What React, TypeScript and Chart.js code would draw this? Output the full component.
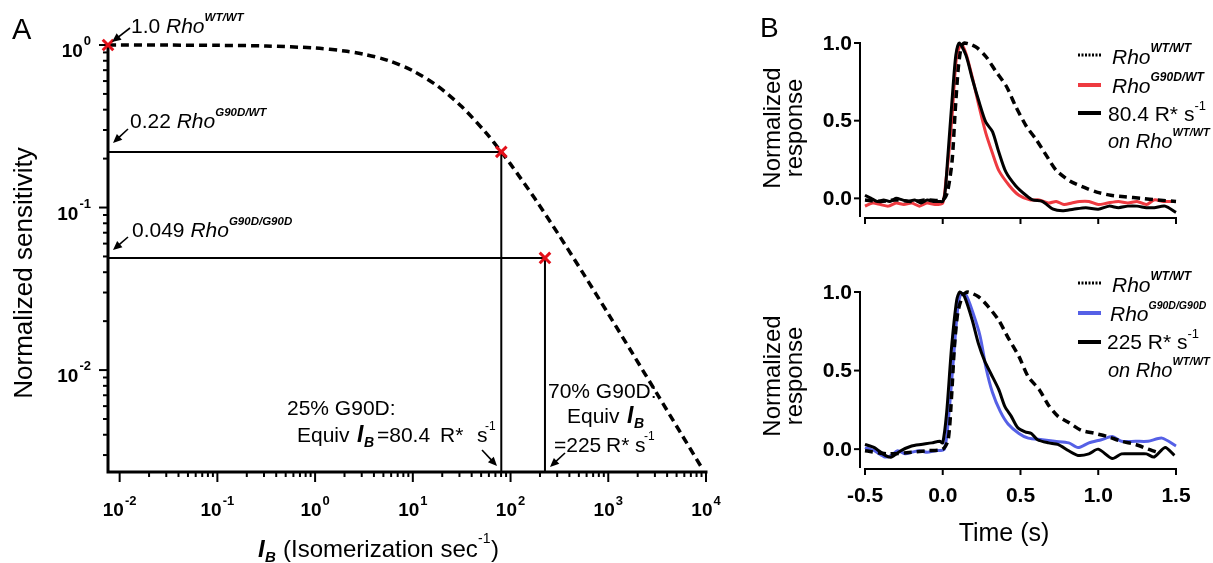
import { useEffect, useRef } from "react";
import { Chart, registerables } from "chart.js";

Chart.register(...registerables);

const W = 1213;
const H = 563;
const FAM = '"Liberation Sans", Arial, Helvetica, sans-serif';
const f = (size: number, weight = "normal", style = "normal") => `${style} ${weight} ${size}px ${FAM}`;
const RED_X = "#e3101a";
const RED = "#ee3a40";
const BLUE = "#5560e6";

// ---------------- Panel A data ----------------
const sensIntensity = [0.0076, 0.01, 0.0316, 0.1, 0.316, 1, 2, 3.16, 5.62, 10, 17.8, 31.6, 56.2, 80.4, 100, 178, 316, 562, 1000, 1778, 3162, 5623, 9000];
const sensValue = [1.0, 0.9996, 0.9986, 0.9956, 0.9863, 0.9578, 0.919, 0.878, 0.802, 0.694, 0.5605, 0.418, 0.2877, 0.22, 0.185, 0.1131, 0.067, 0.0388, 0.0222, 0.01261, 0.00713, 0.00402, 0.00252];
const markIntensity = [0.0076, 80.4, 225];
const markValue = [1.0, 0.22, 0.049];
const guideIntensity = [80.4, 225];
const guideValue = [0.22, 0.049];
const aXMin = 0.0076;
const aXMax = 10000;
const aYMin = 0.00236;
const aYMax = 1;
const aXMajorTicks = [0.01, 0.1, 1, 10, 100, 1000, 10000];
const aXTickExp = ["-2", "-1", "0", "1", "2", "3", "4"];
const aYMajorTicks = [1, 0.1, 0.01];
const aYTickExp = ["0", "-1", "-2"];
const minorMult = [2, 3, 4, 5, 6, 7, 8, 9];
const aXMinorDecades = [0.01, 0.1, 1, 10, 100, 1000];
const aYMinorDecades = [0.1, 0.01, 0.001];

// ---------------- Panel B data ----------------
const bXMin = -0.532;
const bXMax = 1.5;
const bYMin = -0.12;
const bYMax = 1.0;
const bXTicks = [-0.5, 0.0, 0.5, 1.0, 1.5];
const bXTickLabels = ["-0.5", "0.0", "0.5", "1.0", "1.5"];
const bYTicks = [0.0, 0.5, 1.0];
const bYTickLabels = ["0.0", "0.5", "1.0"];

// top: WT/WT (dashed)
const topWtT = [-0.5, -0.4, -0.3, -0.2, -0.1, 0.0, 0.03, 0.06, 0.08, 0.1, 0.12, 0.14, 0.18, 0.22, 0.28, 0.34, 0.41, 0.47, 0.54, 0.6, 0.67, 0.73, 0.82, 0.91, 0.99, 1.08, 1.17, 1.28, 1.38, 1.5];
const topWtR = [-0.01, -0.02, -0.01, -0.02, -0.01, -0.01, 0.04, 0.24, 0.56, 0.84, 0.98, 1.0, 0.99, 0.97, 0.91, 0.82, 0.72, 0.59, 0.46, 0.38, 0.27, 0.18, 0.11, 0.07, 0.04, 0.02, 0.01, 0.0, -0.01, -0.02];
// top: G90D/WT (red)
const topMutT = [-0.5, -0.45, -0.4, -0.35, -0.3, -0.25, -0.2, -0.15, -0.1, -0.05, 0.0, 0.02, 0.04, 0.06, 0.09, 0.12, 0.15, 0.19, 0.234, 0.277, 0.32, 0.36, 0.43, 0.49, 0.56, 0.62, 0.68, 0.73, 0.78, 0.83, 0.88, 0.94, 1.0, 1.06, 1.13, 1.19, 1.25, 1.31, 1.36, 1.42, 1.5];
const topMutR = [-0.05, -0.03, -0.04, -0.05, -0.03, -0.04, -0.03, -0.05, -0.03, -0.04, -0.03, 0.11, 0.3, 0.53, 0.92, 0.99, 0.93, 0.78, 0.59, 0.42, 0.29, 0.18, 0.08, 0.02, -0.01, -0.01, -0.03, -0.02, -0.04, -0.03, -0.02, -0.02, -0.04, -0.03, -0.02, -0.03, -0.02, -0.04, -0.01, -0.02, -0.02];
// top: 80.4 R*/s on WT/WT (black)
const topBgT = [-0.5, -0.46, -0.42, -0.38, -0.34, -0.3, -0.26, -0.22, -0.18, -0.14, -0.1, -0.06, -0.02, 0.0, 0.015, 0.03, 0.062, 0.084, 0.106, 0.15, 0.19, 0.234, 0.277, 0.32, 0.36, 0.406, 0.47, 0.535, 0.578, 0.64, 0.71, 0.77, 0.84, 0.92, 1.0, 1.07, 1.13, 1.19, 1.25, 1.31, 1.36, 1.43, 1.5];
const topBgR = [0.02, 0.0, -0.02, -0.01, -0.02, 0.0, -0.01, -0.02, -0.01, -0.03, -0.01, -0.02, -0.02, -0.02, 0.04, 0.23, 0.66, 0.92, 1.0, 0.92, 0.77, 0.62, 0.49, 0.43, 0.3, 0.17, 0.08, 0.02, -0.01, -0.02, -0.07, -0.08, -0.07, -0.06, -0.07, -0.05, -0.06, -0.05, -0.05, -0.06, -0.06, -0.05, -0.09];

// bottom: WT/WT (dashed)
const botWtT = [-0.5, -0.35, -0.2, -0.1, 0.0, 0.035, 0.057, 0.075, 0.097, 0.13, 0.16, 0.23, 0.29, 0.36, 0.42, 0.49, 0.55, 0.62, 0.68, 0.74, 0.81, 0.89, 0.98, 1.06, 1.15, 1.24, 1.32, 1.38];
const botWtR = [-0.01, -0.03, -0.02, -0.01, 0.0, 0.06, 0.34, 0.65, 0.87, 0.98, 1.0, 0.97, 0.91, 0.82, 0.71, 0.59, 0.46, 0.38, 0.28, 0.21, 0.17, 0.12, 0.1, 0.08, 0.05, 0.03, 0.0, -0.02];
// bottom: G90D/G90D (blue)
const botMutT = [-0.5, -0.44, -0.37, -0.33, -0.29, -0.24, -0.2, -0.15, -0.1, -0.05, 0.01, 0.04, 0.075, 0.097, 0.118, 0.15, 0.19, 0.24, 0.28, 0.32, 0.37, 0.42, 0.49, 0.55, 0.64, 0.72, 0.81, 0.87, 0.94, 1.02, 1.09, 1.15, 1.24, 1.32, 1.41, 1.5];
const botMutR = [0.01, -0.01, -0.05, -0.04, -0.01, -0.03, -0.02, -0.01, -0.02, -0.01, 0.0, 0.23, 0.65, 0.9, 0.99, 0.98, 0.88, 0.72, 0.51, 0.36, 0.24, 0.16, 0.1, 0.07, 0.06, 0.05, 0.04, 0.01, 0.04, 0.06, 0.08, 0.05, 0.05, 0.05, 0.07, 0.02];
// bottom: 225 R*/s on WT/WT (black)
const botBgT = [-0.5, -0.44, -0.37, -0.33, -0.27, -0.2, -0.14, -0.07, -0.02, 0.0, 0.025, 0.057, 0.09, 0.11, 0.14, 0.19, 0.23, 0.27, 0.31, 0.36, 0.4, 0.44, 0.48, 0.53, 0.57, 0.61, 0.68, 0.74, 0.81, 0.87, 0.94, 1.0, 1.09, 1.15, 1.21, 1.26, 1.31, 1.36, 1.43, 1.49];
const botBgR = [0.03, 0.01, -0.04, -0.05, -0.01, 0.02, 0.03, 0.04, 0.05, 0.04, 0.23, 0.65, 0.95, 1.0, 0.97, 0.82, 0.67, 0.56, 0.48, 0.38, 0.27, 0.21, 0.14, 0.11, 0.1, 0.06, 0.04, 0.03, -0.01, -0.04, -0.03, 0.0, -0.06, -0.03, -0.03, -0.03, -0.03, -0.05, 0.01, -0.04];

// ---------------- drawing helpers ----------------
type Seg = { t: string; font: string; dy?: number; dx?: number };

function drawRich(ctx: CanvasRenderingContext2D, x: number, y: number, segs: Seg[], align: "left" | "center" | "right" = "left") {
  ctx.textAlign = "left";
  ctx.textBaseline = "alphabetic";
  let w = 0;
  for (const s of segs) {
    ctx.font = s.font;
    w += ctx.measureText(s.t).width + (s.dx || 0);
  }
  let cx = align === "left" ? x : align === "center" ? x - w / 2 : x - w;
  for (const s of segs) {
    ctx.font = s.font;
    cx += s.dx || 0;
    ctx.fillText(s.t, cx, y + (s.dy || 0));
    cx += ctx.measureText(s.t).width;
  }
}

function text(ctx: CanvasRenderingContext2D, s: string, x: number, y: number, font: string) {
  ctx.font = font;
  ctx.textAlign = "left";
  ctx.textBaseline = "alphabetic";
  ctx.fillText(s, x, y);
}

function arrow(ctx: CanvasRenderingContext2D, x1: number, y1: number, x2: number, y2: number) {
  const a = Math.atan2(y2 - y1, x2 - x1);
  const L = 9;
  const Wd = 4;
  ctx.lineWidth = 1.6;
  ctx.setLineDash([]);
  ctx.beginPath();
  ctx.moveTo(x1, y1);
  ctx.lineTo(x2 - L * 0.7 * Math.cos(a), y2 - L * 0.7 * Math.sin(a));
  ctx.stroke();
  ctx.beginPath();
  ctx.moveTo(x2, y2);
  ctx.lineTo(x2 - L * Math.cos(a) + Wd * Math.sin(a), y2 - L * Math.sin(a) - Wd * Math.cos(a));
  ctx.lineTo(x2 - L * Math.cos(a) - Wd * Math.sin(a), y2 - L * Math.sin(a) + Wd * Math.cos(a));
  ctx.closePath();
  ctx.fill();
}

const rho = (sup: string, size = 21, supSize = 11.5, supDy = -12): Seg[] => [
  { t: "Rho", font: f(size, "normal", "italic") },
  { t: sup, font: f(supSize, "bold", "italic"), dy: supDy, dx: 0 },
];

function line(ctx: CanvasRenderingContext2D, x1: number, y1: number, x2: number, y2: number) {
  ctx.beginPath();
  ctx.moveTo(x1, y1);
  ctx.lineTo(x2, y2);
  ctx.stroke();
}

// ---------------- Panel A config ----------------
function makeA(): any {
  const pts = (xs: number[], ys: number[]) => xs.map((x, i) => ({ x, y: ys[i] }));
  const datasets: any[] = [
    {
      data: pts(markIntensity, markValue),
      showLine: false,
      pointStyle: "crossRot",
      pointRadius: 7.5,
      pointBorderColor: RED_X,
      borderColor: RED_X,
      pointBorderWidth: 3,
      pointBackgroundColor: RED_X,
      order: 0,
      clip: false,
    },
    {
      data: pts(sensIntensity, sensValue),
      showLine: true,
      borderColor: "#000",
      borderWidth: 3.5,
      borderDash: [8, 5],
      pointRadius: 0,
      tension: 0.3,
      order: 1,
      clip: false,
    },
  ];
  guideIntensity.forEach((gi, i) => {
    datasets.push({
      data: [
        { x: aXMin, y: guideValue[i] },
        { x: gi, y: guideValue[i] },
        { x: gi, y: aYMin },
      ],
      showLine: true,
      borderColor: "#000",
      borderWidth: 2,
      pointRadius: 0,
      order: 2,
      clip: false,
    });
  });

  const plugin = {
    id: "panelA",
    beforeDatasetsDraw(chart: any) {
      const { ctx, chartArea: ca } = chart;
      const xs = chart.scales.x;
      const ys = chart.scales.y;
      ctx.save();
      ctx.strokeStyle = "#000";
      ctx.fillStyle = "#000";
      ctx.lineWidth = 3;
      ctx.beginPath();
      ctx.moveTo(ca.left, ca.top - 2);
      ctx.lineTo(ca.left, ca.bottom);
      ctx.lineTo(ca.right + 1.5, ca.bottom);
      ctx.stroke();
      ctx.lineWidth = 2;
      // y ticks
      aYMajorTicks.forEach((v, i) => {
        const py = ys.getPixelForValue(v);
        line(ctx, ca.left - 9, py, ca.left, py);
        drawRich(ctx, ca.left - 17, py + 12, [
          { t: "10", font: f(19, "bold") },
          { t: aYTickExp[i], font: f(13, "bold"), dy: -12, dx: 1 },
        ], "right");
      });
      aYMinorDecades.forEach((d) => {
        minorMult.forEach((m) => {
          const v = d * m;
          if (v < aYMin || v > aYMax) return;
          const py = ys.getPixelForValue(v);
          line(ctx, ca.left - 5, py, ca.left, py);
        });
      });
      // x ticks
      aXMajorTicks.forEach((v, i) => {
        const px = xs.getPixelForValue(v);
        line(ctx, px, ca.bottom, px, ca.bottom + 10);
        drawRich(ctx, px, 516, [
          { t: "10", font: f(19, "bold") },
          { t: aXTickExp[i], font: f(13, "bold"), dy: -11, dx: 1 },
        ], "center");
      });
      aXMinorDecades.forEach((d) => {
        minorMult.forEach((m) => {
          const v = d * m;
          if (v < aXMin || v > aXMax) return;
          const px = xs.getPixelForValue(v);
          line(ctx, px, ca.bottom, px, ca.bottom + 5);
        });
      });
      ctx.restore();
    },
    afterDatasetsDraw(chart: any) {
      const { ctx } = chart;
      ctx.save();
      ctx.fillStyle = "#000";
      ctx.strokeStyle = "#000";
      // panel letter
      text(ctx, "A", 12, 39, f(29));
      // axis titles
      ctx.save();
      ctx.translate(32, 273);
      ctx.rotate(-Math.PI / 2);
      drawRich(ctx, 0, 0, [{ t: "Normalized sensitivity", font: f(26) }], "center");
      ctx.restore();
      text(ctx, "I", 258, 557, f(24, "bold", "italic"));
      text(ctx, "B", 265, 562, f(15, "bold", "italic"));
      text(ctx, "(Isomerization sec", 283, 557, f(24));
      text(ctx, "-1", 478, 543, f(14));
      text(ctx, ")", 491, 557, f(24));
      // sensitivity annotations
      drawRich(ctx, 131, 33, [{ t: "1.0 ", font: f(21) }, ...rho("WT/WT")]);
      arrow(ctx, 130, 28, 112, 42);
      drawRich(ctx, 130, 128, [{ t: "0.22 ", font: f(21) }, ...rho("G90D/WT")]);
      arrow(ctx, 128, 129, 113, 143);
      drawRich(ctx, 132, 237, [{ t: "0.049 ", font: f(21) }, ...rho("G90D/G90D")]);
      arrow(ctx, 128, 237, 113, 250);
      // equivalent background annotations
      text(ctx, "25% G90D:", 287, 415, f(21));
      text(ctx, "Equiv", 297, 442, f(21));
      text(ctx, "I", 357, 442, f(23, "bold", "italic"));
      text(ctx, "B", 364, 447, f(14, "bold", "italic"));
      text(ctx, "=80.4", 377, 442, f(21));
      text(ctx, "R*", 440, 442, f(21));
      text(ctx, "s", 477, 442, f(21));
      text(ctx, "-1", 485, 430, f(12));
      arrow(ctx, 482, 450, 497, 466);
      text(ctx, "70% G90D:", 548, 398, f(21));
      text(ctx, "Equiv", 567, 423, f(21));
      text(ctx, "I", 627, 423, f(23, "bold", "italic"));
      text(ctx, "B", 634, 428, f(14, "bold", "italic"));
      text(ctx, "=225", 554, 452, f(21));
      text(ctx, "R*", 606, 452, f(21));
      text(ctx, "s", 635, 452, f(21));
      text(ctx, "-1", 644, 440, f(12));
      arrow(ctx, 565, 453, 550, 467);
      ctx.restore();
    },
  };

  return {
    type: "scatter",
    data: { datasets },
    options: {
      responsive: false,
      animation: false,
      devicePixelRatio: 1,
      events: [],
      layout: { padding: { left: 108, right: W - 706, top: 45, bottom: H - 472 } },
      plugins: { legend: { display: false }, tooltip: { enabled: false } },
      scales: {
        x: { type: "logarithmic", min: aXMin, max: aXMax, display: false },
        y: { type: "logarithmic", min: aYMin, max: aYMax, display: false },
      },
    },
    plugins: [plugin],
  };
}

// ---------------- Panel B config ----------------
type Series = { t: number[]; r: number[]; color: string; dash?: number[]; order: number };
type LegendRow = { kind: "dot" | "line" | "none"; color: string; lineY: number; x: number; y: number; segs: Seg[] };

function makeB(top: number, bottom: number, series: Series[], legend: LegendRow[], xLabels: boolean, titleY: number, letter: boolean): any {
  const datasets = series.map((s) => ({
    data: s.t.map((x, i) => ({ x, y: s.r[i] })),
    showLine: true,
    borderColor: s.color,
    borderWidth: s.dash ? 3.5 : 3,
    borderDash: s.dash || [],
    pointRadius: 0,
    tension: 0.25,
    order: s.order,
    clip: false,
  }));
  const plugin = {
    id: "panelB" + top,
    beforeDatasetsDraw(chart: any) {
      const { ctx, chartArea: ca } = chart;
      const xs = chart.scales.x;
      const ys = chart.scales.y;
      ctx.save();
      ctx.strokeStyle = "#000";
      ctx.fillStyle = "#000";
      ctx.lineWidth = 2;
      line(ctx, ca.left, ys.getPixelForValue(1.0) - 1, ca.left, ca.bottom);
      line(ctx, xs.getPixelForValue(-0.5) - 1, ca.bottom + 1, ca.right + 1, ca.bottom + 1);
      bYTicks.forEach((v, i) => {
        const py = ys.getPixelForValue(v);
        line(ctx, ca.left - 6, py, ca.left, py);
        ctx.font = f(21, "bold");
        ctx.textAlign = "right";
        ctx.textBaseline = "middle";
        ctx.fillText(bYTickLabels[i], ca.left - 8, py + 1);
      });
      bXTicks.forEach((v, i) => {
        const px = xs.getPixelForValue(v);
        line(ctx, px, ca.bottom + 1, px, ca.bottom + 7);
        if (xLabels) {
          ctx.font = f(21, "bold");
          ctx.textAlign = "center";
          ctx.textBaseline = "alphabetic";
          ctx.fillText(bXTickLabels[i], px, 502);
        }
      });
      ctx.restore();
    },
    afterDatasetsDraw(chart: any) {
      const { ctx } = chart;
      ctx.save();
      ctx.fillStyle = "#000";
      ctx.strokeStyle = "#000";
      if (letter) text(ctx, "B", 760, 37, f(28));
      ctx.save();
      ctx.translate(780, titleY);
      ctx.rotate(-Math.PI / 2);
      drawRich(ctx, 0, 0, [{ t: "Normalized", font: f(24) }], "center");
      ctx.restore();
      ctx.save();
      ctx.translate(802, titleY);
      ctx.rotate(-Math.PI / 2);
      drawRich(ctx, 0, 0, [{ t: "response", font: f(24) }], "center");
      ctx.restore();
      if (xLabels) {
        ctx.font = f(25);
        ctx.textAlign = "center";
        ctx.textBaseline = "alphabetic";
        ctx.fillText("Time (s)", 1004, 541);
      }
      legend.forEach((row) => {
        if (row.kind !== "none") {
          ctx.save();
          ctx.strokeStyle = row.color;
          if (row.kind === "dot") {
            ctx.lineWidth = 3;
            ctx.setLineDash([2, 1.5]);
          } else {
            ctx.lineWidth = 4;
          }
          line(ctx, 1078, row.lineY, 1101, row.lineY);
          ctx.restore();
        }
        ctx.fillStyle = "#000";
        drawRich(ctx, row.x, row.y, row.segs);
      });
      ctx.restore();
    },
  };
  return {
    type: "scatter",
    data: { datasets },
    options: {
      responsive: false,
      animation: false,
      devicePixelRatio: 1,
      events: [],
      layout: { padding: { left: 860, right: W - 1176, top, bottom: H - bottom } },
      plugins: { legend: { display: false }, tooltip: { enabled: false } },
      scales: {
        x: { type: "linear", min: bXMin, max: bXMax, display: false },
        y: { type: "linear", min: bYMin, max: bYMax, display: false },
      },
    },
    plugins: [plugin],
  };
}

function makeBTop() {
  return makeB(
    43,
    217,
    [
      { t: topMutT, r: topMutR, color: RED, order: 2 },
      { t: topBgT, r: topBgR, color: "#000", order: 1 },
      { t: topWtT, r: topWtR, color: "#000", dash: [8, 5], order: 0 },
    ],
    [
      { kind: "dot", color: "#000", lineY: 55, x: 1112, y: 64, segs: rho("WT/WT", 21, 12, -12) },
      { kind: "line", color: RED, lineY: 85, x: 1112, y: 93, segs: rho("G90D/WT", 21, 12, -12) },
      { kind: "line", color: "#000", lineY: 113, x: 1108, y: 121, segs: [{ t: "80.4 R* s", font: f(21) }, { t: "-1", font: f(13), dy: -11, dx: 0 }] },
      { kind: "none", color: "#000", lineY: 0, x: 1108, y: 148, segs: [{ t: "on ", font: f(20, "normal", "italic") }, ...rho("WT/WT", 20, 11, -12)] },
    ],
    false,
    128,
    true
  );
}

function makeBBottom() {
  return makeB(
    292,
    468,
    [
      { t: botMutT, r: botMutR, color: BLUE, order: 2 },
      { t: botBgT, r: botBgR, color: "#000", order: 1 },
      { t: botWtT, r: botWtR, color: "#000", dash: [8, 5], order: 0 },
    ],
    [
      { kind: "dot", color: "#000", lineY: 283, x: 1112, y: 292, segs: rho("WT/WT", 21, 12, -12) },
      { kind: "line", color: BLUE, lineY: 313, x: 1110, y: 321, segs: rho("G90D/G90D", 21, 10.5, -12) },
      { kind: "line", color: "#000", lineY: 342, x: 1107, y: 349, segs: [{ t: "225 R* s", font: f(21) }, { t: "-1", font: f(13), dy: -11, dx: 0 }] },
      { kind: "none", color: "#000", lineY: 0, x: 1108, y: 377, segs: [{ t: "on ", font: f(20, "normal", "italic") }, ...rho("WT/WT", 20, 11, -12)] },
    ],
    true,
    376,
    false
  );
}

function ChartCanvas({ make }: { make: () => any }) {
  const ref = useRef<HTMLCanvasElement>(null);
  useEffect(() => {
    const chart = new Chart(ref.current as HTMLCanvasElement, make());
    return () => chart.destroy();
  }, [make]);
  return <canvas ref={ref} width={W} height={H} style={{ position: "absolute", left: 0, top: 0, width: W, height: H }} />;
}

export default function App() {
  return (
    <div style={{ position: "absolute", left: 0, top: 0, width: W, height: H, background: "#fff", overflow: "hidden" }}>
      <ChartCanvas make={makeA} />
      <ChartCanvas make={makeBTop} />
      <ChartCanvas make={makeBBottom} />
    </div>
  );
}
